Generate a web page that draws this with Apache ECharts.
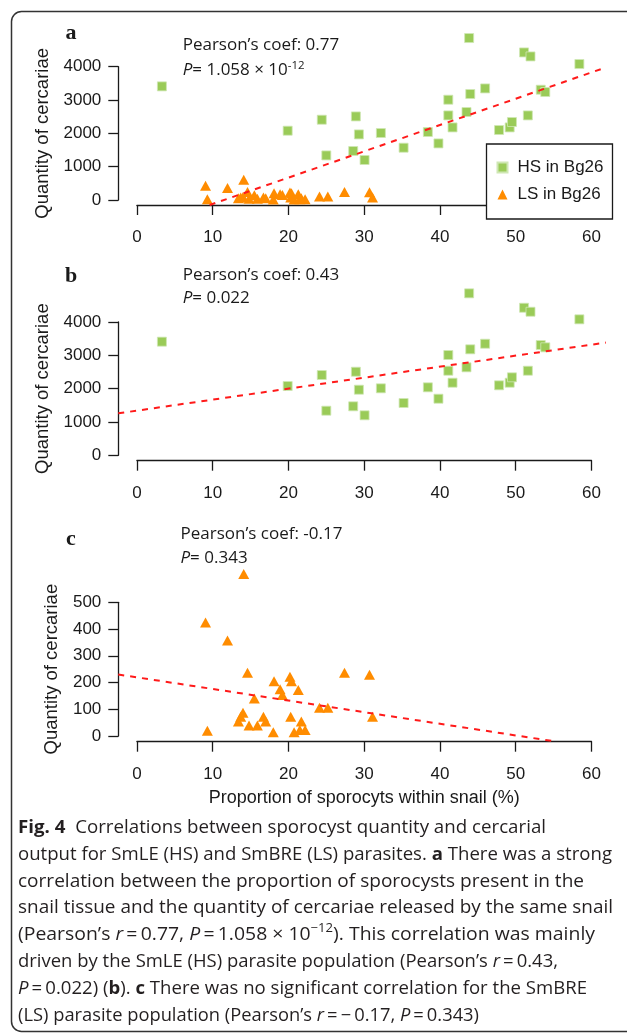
<!DOCTYPE html>
<html><head><meta charset="utf-8">
<script src="https://cdn.jsdelivr.net/npm/echarts@6/dist/echarts.min.js"></script>
<style>
html,body{margin:0;padding:0;background:#fff;width:627px;height:1035px;overflow:hidden}
#chart{position:absolute;left:0;top:0;width:627px;height:1035px}
#cap{position:absolute;left:18px;top:813px;font-family:"Open Sans",sans-serif;font-size:17.8px;line-height:26.8px;color:#231f20;white-space:nowrap}
#cap div{height:26.8px}
#cap span.ln{display:inline-block;transform-origin:0 50%}
#cap b{font-weight:700}
#cap sup{font-size:12px;line-height:0;position:relative;top:-1px}
</style></head><body>
<div id="chart"></div>
<div id="cap">
<div><span class="ln"><b>Fig. 4</b>&nbsp; Correlations between sporocyst quantity and cercarial</span></div>
<div><span class="ln">output for SmLE (HS) and SmBRE (LS) parasites. <b>a</b> There was a strong</span></div>
<div><span class="ln">correlation between the proportion of sporocysts present in the</span></div>
<div><span class="ln">snail tissue and the quantity of cercariae released by the same snail</span></div>
<div><span class="ln">(Pearson’s <i>r</i>&thinsp;=&thinsp;0.77, <i>P</i>&thinsp;=&thinsp;1.058 × 10<sup>−12</sup>). This correlation was mainly</span></div>
<div><span class="ln">driven by the SmLE (HS) parasite population (Pearson’s <i>r</i>&thinsp;=&thinsp;0.43,</span></div>
<div><span class="ln"><i>P</i>&thinsp;=&thinsp;0.022) (<b>b</b>). <b>c</b> There was no significant correlation for the SmBRE</span></div>
<div><span class="ln">(LS) parasite population (Pearson’s <i>r</i>&thinsp;=&thinsp;−&thinsp;0.17, <i>P</i>&thinsp;=&thinsp;0.343)</span></div>
</div>
<script>
// ---------- data ----------
const hsX = [3.3, 19.9, 24.4, 25.0, 28.9, 28.55, 29.3, 30.05, 32.2, 35.2, 38.4, 39.8, 41.1, 41.1, 41.66, 43.5, 43.85, 44.0, 45.96, 47.8, 49.2, 49.5, 51.1, 51.95, 51.6, 53.3, 53.9, 58.4];
const hsY = [3410, 2079, 2409, 1338, 2508, 1470, 1968, 1200, 2010, 1569, 2040, 1698, 3009, 2538, 2178, 2640, 4860, 3180, 3348, 2100, 2178, 2340, 4428, 4308, 2538, 3309, 3240, 4080];
const lsX = [14.1, 9.06, 11.96, 14.6, 18.1, 20.2, 20.4, 18.9, 19.2, 21.3, 15.5, 27.4, 30.7, 24.1, 25.2, 31.1, 14.0, 13.7, 13.4, 16.7, 17.0, 14.8, 15.9, 20.3, 21.7, 9.3, 18.0, 20.75, 21.5, 22.2];
const lsY = [606, 424, 357, 237, 205, 222, 205, 175, 153, 172, 140, 237, 229, 106, 106, 72, 87, 72, 54, 72, 54, 39, 39, 72, 54, 20, 14, 14, 22, 22];
const trendAX = [9.6, 61.9],   trendAY = [-150, 3979];
const trendBX = [-2.46, 61.9], trendBY = [1259, 3383];
const trendCX = [-2.46, 55.4], trendCY = [230, -21.3];
const xTicks = [0, 10, 20, 30, 40, 50, 60];
const yTicksHS = [0, 1000, 2000, 3000, 4000];
const yTicksLS = [0, 100, 200, 300, 400, 500];
// plotting-region ranges (R-style usr extents) per panel
const plotXRange = [-2.46, 61.9];
const plotYRanges = [[-150, 5000], [-162, 5000], [-21.3, 650]];
const panelLabels = ['a', 'b', 'c'];
const coefTexts = ['Pearson’s coef: 0.77', 'Pearson’s coef: 0.43', 'Pearson’s coef: -0.17'];
const pTexts = ['{i|P}= 1.058 × 10{s|-12}', '{i|P}= 0.022', '{i|P}= 0.343'];
const seriesNames = ['HS in Bg26', 'LS in Bg26'];
const yTitle = 'Quantity of cercariae';
const xTitle = 'Proportion of sporocyts within snail (%)';

// ---------- caption line fitting (layout only) ----------
const capRightEdges = [546, 612, 584, 613, 595, 558, 587, 479];
document.querySelectorAll('#cap span.ln').forEach((el, i) => {
  const w = el.getBoundingClientRect().width;
  const target = capRightEdges[i] - 18;
  if (w > 0) el.style.transform = 'scaleX(' + (target / w).toFixed(4) + ')';
});

// ---------- styling / layout ----------
const W = 627;
const INK = '#1a1a1a';
const GREEN = '#9acb58';
const ORANGE = '#ff8c00';
const AX = 'Liberation Sans';
const pairs = (xs, ys) => xs.map((v, i) => [v, ys[i]]);

const axisGrids = [
  {left: 136.9, right: 35.5, top: 66.7, height: 133.3},
  {left: 136.9, right: 35.5, top: 322, height: 133.3},
  {left: 136.9, right: 35.5, top: 602.3, height: 133.7}
];
const yTickSets = [yTicksHS, yTicksHS, yTicksLS];
const xOffsets = [5, 5.4, 5.7];

const dataGrids = axisGrids.map((g, i) => {
  const x0 = xTicks[0], x1 = xTicks[xTicks.length - 1];
  const yt = yTickSets[i], y0 = yt[0], y1 = yt[yt.length - 1];
  const gw = W - g.left - g.right;
  const px = gw / (x1 - x0), py = g.height / (y1 - y0);
  const [dx0, dx1] = plotXRange, [dy0, dy1] = plotYRanges[i];
  const left = g.left + (dx0 - x0) * px;
  const rightPx = g.left + (dx1 - x0) * px;
  const top = g.top - (dy1 - y1) * py;
  return {left: left, right: W - rightPx, top: top, height: (dy1 - dy0) * py};
});

function xAxis(gi, name) {
  return {
    type: 'value', gridIndex: gi,
    min: xTicks[0], max: xTicks[xTicks.length - 1], interval: xTicks[1] - xTicks[0],
    offset: xOffsets[gi],
    splitLine: {show: false},
    axisLine: {onZero: false, lineStyle: {color: INK, width: 1.3}},
    axisTick: {length: 10, lineStyle: {color: INK, width: 1.3}},
    axisLabel: {margin: 24, fontSize: 17, fontFamily: AX, color: INK, showMinLabel: true, showMaxLabel: true},
    name: name || '', nameLocation: 'middle', nameGap: 47,
    nameTextStyle: {fontSize: 18, fontFamily: AX, color: INK}
  };
}
function yAxis(gi, ticks) {
  return {
    type: 'value', gridIndex: gi,
    min: ticks[0], max: ticks[ticks.length - 1], interval: ticks[1] - ticks[0],
    offset: 18.6,
    splitLine: {show: false},
    axisLine: {onZero: false, lineStyle: {color: INK, width: 1.3}},
    axisTick: {length: 10, lineStyle: {color: INK, width: 1.3}},
    axisLabel: {margin: 17, fontSize: 17, fontFamily: AX, color: INK, showMinLabel: true, showMaxLabel: true,
      formatter: v => String(v)},
    name: yTitle, nameLocation: 'middle', nameRotate: 90, nameGap: 57,
    nameTextStyle: {fontSize: 18.5, fontFamily: AX, color: INK}
  };
}
function hiddenX(gi) {
  return {type: 'value', gridIndex: gi, show: false, min: plotXRange[0], max: plotXRange[1], splitLine: {show: false}};
}
function hiddenY(gi, r) {
  return {type: 'value', gridIndex: gi, show: false, min: r[0], max: r[1], splitLine: {show: false}};
}
function hsSeries(ai) {
  return {type: 'scatter', name: seriesNames[0], xAxisIndex: ai, yAxisIndex: ai, clip: false,
    symbol: 'rect', symbolSize: 9, z: 3,
    itemStyle: {color: GREEN, borderColor: '#cfe7b4', borderWidth: 0.8, opacity: 1},
    data: pairs(hsX, hsY)};
}
function lsSeries(ai) {
  return {type: 'scatter', name: seriesNames[1], xAxisIndex: ai, yAxisIndex: ai, clip: false,
    symbol: 'triangle', symbolSize: [11, 10], z: 3,
    itemStyle: {color: ORANGE, opacity: 1},
    data: pairs(lsX, lsY)};
}
function trend(ai, xs, ys) {
  return {type: 'line', xAxisIndex: ai, yAxisIndex: ai, clip: false, showSymbol: false, symbol: 'none',
    silent: true, z: 4, legendHoverLink: false,
    lineStyle: {color: '#ff1a1a', width: 2, type: [6, 6]},
    data: pairs(xs, ys)};
}

const panelY = [{lab: 33, l1: 45, l2: 70, x: 182.7}, {lab: 276.5, l1: 275, l2: 298.3, x: 182.7}, {lab: 539, l1: 534, l2: 558.3, x: 180.5}];
const graphics = [{
  type: 'rect', z: -1, silent: true,
  shape: {x: 11.5, y: 11.5, width: 700, height: 1020, r: 10},
  style: {fill: 'none', stroke: '#333', lineWidth: 1.5}
}];
panelY.forEach((p, i) => {
  graphics.push({type: 'text', x: 71, y: p.lab, silent: true,
    style: {text: panelLabels[i], fill: INK, font: 'bold 22px "Liberation Serif"', align: 'center', verticalAlign: 'middle'}});
  graphics.push({type: 'text', x: p.x, y: p.l1, silent: true,
    style: {text: coefTexts[i], fill: INK, font: '17px "Open Sans"', align: 'left', verticalAlign: 'middle'}});
  graphics.push({type: 'text', x: p.x, y: p.l2, silent: true,
    style: {text: pTexts[i], fill: INK, font: '17px "Open Sans"', align: 'left', verticalAlign: 'middle',
      rich: {i: {fontStyle: 'italic', fontSize: 17, fontFamily: 'Open Sans', fill: INK},
             s: {fontSize: 11.5, fontFamily: 'Open Sans', fill: INK, verticalAlign: 'top', lineHeight: 20, padding: [0, 0, 8, 0]}}}});
});

const chart = echarts.init(document.getElementById('chart'), null, {renderer: 'canvas'});
chart.setOption({
  animation: false,
  backgroundColor: '#fff',
  grid: axisGrids.concat(dataGrids),
  xAxis: [xAxis(0), xAxis(1), xAxis(2, xTitle), hiddenX(3), hiddenX(4), hiddenX(5)],
  yAxis: [yAxis(0, yTicksHS), yAxis(1, yTicksHS), yAxis(2, yTicksLS),
          hiddenY(3, plotYRanges[0]), hiddenY(4, plotYRanges[1]), hiddenY(5, plotYRanges[2])],
  legend: {
    data: [{name: seriesNames[0], icon: 'rect'}, {name: seriesNames[1], icon: 'triangle'}],
    orient: 'vertical', left: 486.5, top: 144,
    padding: [15, 9, 16, 10], itemWidth: 10, itemHeight: 10, itemGap: 10,
    borderColor: INK, borderWidth: 1.3, borderRadius: 0, backgroundColor: '#fff',
    selectedMode: false,
    textStyle: {fontSize: 17, fontFamily: AX, color: INK, padding: [0, 0, 0, 5]}
  },
  series: [hsSeries(3), lsSeries(3), trend(3, trendAX, trendAY),
           hsSeries(4), trend(4, trendBX, trendBY),
           lsSeries(5), trend(5, trendCX, trendCY)],
  graphic: graphics
});
</script></body></html>
